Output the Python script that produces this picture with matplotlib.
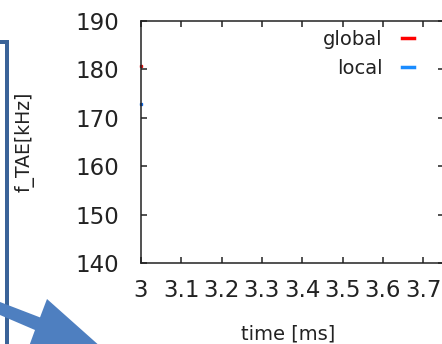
import matplotlib
matplotlib.use("Agg")
import matplotlib.pyplot as plt
from matplotlib.lines import Line2D
from matplotlib.patches import Polygon, Rectangle

# ---- data ----
series_names = ["global", "local"]
series_colors = ["#ff0000", "#1a8cff"]
point_colors = ["#dd1111", "#1166dd"]
times = [3.0, 3.0]
freqs = [180.6, 172.8]
xticks = [3.0, 3.1, 3.2, 3.3, 3.4, 3.5, 3.6, 3.7]
xtick_labels = ["3", "3.1", "3.2", "3.3", "3.4", "3.5", "3.6", "3.7"]
yticks = [140, 150, 160, 170, 180, 190]

W, H = 442, 344
fig = plt.figure(figsize=(W / 100, H / 100), dpi=100)

def px(x, y):
    return (x / W, 1 - y / H)

L, R, T, B = 141, 443.5, 21, 263
ax = fig.add_axes([L / W, 1 - B / H, (R - L) / W, (B - T) / H])
ax.set_xlim(3.0, 3.75)
ax.set_ylim(140, 190)

for t, f, c in zip(times, freqs, point_colors):
    ax.plot([t], [f], marker="s", ms=2.0, color=c, ls="none", clip_on=False, zorder=1)

for s in ax.spines.values():
    s.set_linewidth(1.1)
    s.set_color("#222222")
    s.set_zorder(3)

ax.set_xticks(xticks)
ax.set_xticklabels(xtick_labels)
ax.set_yticks(yticks)
ax.tick_params(direction="in", length=4.5, width=1.1, color="#222222",
               top=True, right=True, labelsize=16.5, labelcolor="#222222")
ax.tick_params(axis="y", pad=15.5)
ax.tick_params(axis="x", pad=11.5)

ax.set_xlabel("time [ms]", fontsize=14, color="#222222")
ax.xaxis.set_label_coords((288 - L) / (R - L), -62 / (B - T))
ax.set_ylabel("f_TAE[kHz]", fontsize=13.5, color="#222222")
ax.yaxis.set_label_coords(-(L - 35) / (R - L), 0.5)

handles = [Line2D([], [], color=c, lw=2.5) for c in series_colors]
leg = ax.legend(handles, series_names, loc="upper right", frameon=False,
                markerfirst=False, fontsize=14, handlelength=0.6,
                handletextpad=1.0, labelspacing=0.5,
                bbox_to_anchor=(px(414, 0)[0], px(0, 30)[1]),
                bbox_transform=fig.transFigure, borderaxespad=0, borderpad=0)
for t in leg.get_texts():
    t.set_color("#222222")

# ---- slide decorations ----
box_color = "#3a6398"
fig.add_artist(Rectangle(px(5, 344), 4 / W, 304 / H, transform=fig.transFigure,
                         facecolor=box_color, edgecolor="none"))
fig.add_artist(Rectangle(px(0, 44), 9 / W, 4 / H, transform=fig.transFigure,
                         facecolor=box_color, edgecolor="none"))

arrow_pts = [(0, 302), (40, 317.4), (47, 299), (102, 348), (28.8, 347), (35, 330), (0, 315)]
fig.add_artist(Polygon([px(x, y) for x, y in arrow_pts], closed=True,
                       transform=fig.transFigure, facecolor="#4e7fc0",
                       edgecolor="none", zorder=5))

fig.savefig("out.png", dpi=100)
